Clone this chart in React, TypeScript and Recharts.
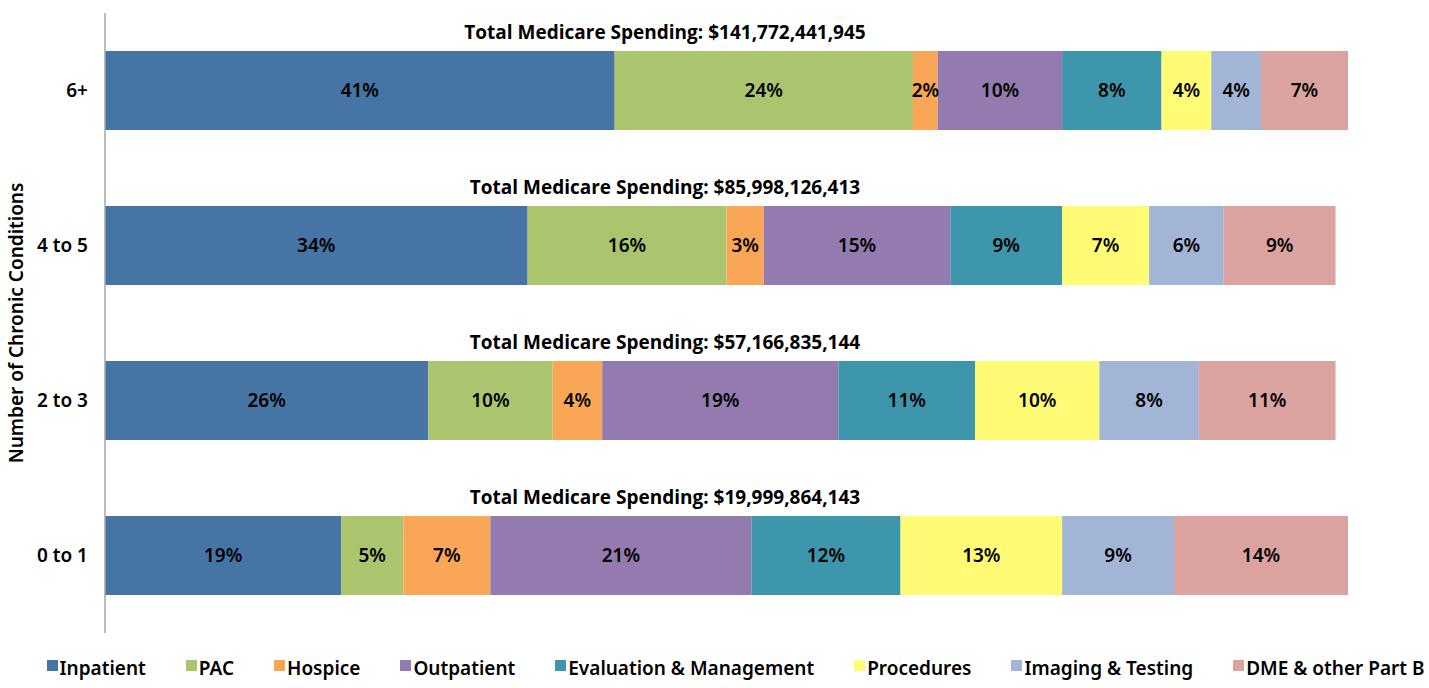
import { BarChart, Bar, XAxis, YAxis, LabelList, Legend, Label } from "recharts";

const categories = ["6+", "4 to 5", "2 to 3", "0 to 1"];
const totals = ["$141,772,441,945", "$85,998,126,413", "$57,166,835,144", "$19,999,864,143"];

const inpatient = [41, 34, 26, 19];
const pac = [24, 16, 10, 5];
const hospice = [2, 3, 4, 7];
const outpatient = [10, 15, 19, 21];
const evalMgmt = [8, 9, 11, 12];
const procedures = [4, 7, 10, 13];
const imaging = [4, 6, 8, 9];
const dme = [7, 9, 11, 14];

const series = [
  { key: "inpatient", name: "Inpatient", values: inpatient, color: "#4674A5" },
  { key: "pac", name: "PAC", values: pac, color: "#ABC56E" },
  { key: "hospice", name: "Hospice", values: hospice, color: "#F9A656" },
  { key: "outpatient", name: "Outpatient", values: outpatient, color: "#937BB0" },
  { key: "evalMgmt", name: "Evaluation & Management", values: evalMgmt, color: "#3D96AC" },
  { key: "procedures", name: "Procedures", values: procedures, color: "#FFFB75" },
  { key: "imaging", name: "Imaging & Testing", values: imaging, color: "#A2B5D7" },
  { key: "dme", name: "DME & other Part B", values: dme, color: "#DAA3A0" },
];

const data = categories.map((name, i) => {
  const row: Record<string, string | number> = { name, total: totals[i] };
  series.forEach((s) => (row[s.key] = s.values[i]));
  return row;
});

const FONT = "'Noto Sans', Lato, sans-serif";
const TITLE_FONT = "'Open Sans', 'Noto Sans', sans-serif";

// title sits above each bar, roughly centred over the plot
const TitleLabel = (props: any) => {
  const { x, y, index } = props;
  return (
    <text x={x + 560} y={y - 12} textAnchor="middle" fontFamily={TITLE_FONT} fontWeight={700} fontSize={19} fill="#000">
      Total Medicare Spending: {totals[index]}
    </text>
  );
};

const renderLegend = () => (
  <div style={{ display: "flex", justifyContent: "center", paddingLeft: 42, fontFamily: FONT, fontWeight: 600, fontSize: 19, color: "#000" }}>
    {series.map((s, i) => (
      <div key={s.key} style={{ display: "flex", alignItems: "flex-start", marginRight: i === series.length - 1 ? 0 : 40 }}>
        <span style={{ width: 11, height: 11, background: s.color, marginTop: 4, marginRight: 2 }} />
        <span style={{ lineHeight: "24px" }}>{s.name}</span>
      </div>
    ))}
  </div>
);

export default function App() {
  return (
    <div style={{ position: "absolute", left: 0, top: 0, background: "#fff" }}>
      <BarChart width={1429} height={688} data={data} layout="vertical" margin={{ top: 13, right: 81, bottom: 31, left: 0 }} barSize={79}>
        <XAxis type="number" domain={[0, 100]} hide />
        <YAxis
          type="category"
          dataKey="name"
          width={105}
          tickLine={false}
          axisLine={{ stroke: "#A6A6A6", strokeWidth: 1.5 }}
          tickMargin={11}
          tick={{ fill: "#000", fontSize: 19, fontFamily: FONT, fontWeight: 600 }}
        >
          <Label
            value="Number of Chronic Conditions"
            angle={-90}
            position="insideLeft"
            offset={16}
            style={{ textAnchor: "middle", fill: "#000", fontSize: 19, fontFamily: FONT, fontWeight: 600 }}
          />
        </YAxis>
        <Legend verticalAlign="bottom" content={renderLegend} wrapperStyle={{ bottom: 8, left: 0, width: 1429 }} />
        {series.map((s, si) => (
          <Bar key={s.key} dataKey={s.key} name={s.name} stackId="a" fill={s.color} isAnimationActive={false}>
            <LabelList
              dataKey={s.key}
              position="center"
              formatter={(v: any) => `${v}%`}
              fill="#000"
              fontSize={19}
              fontFamily={FONT}
              fontWeight={600}
            />
            {si === 0 && <LabelList dataKey="total" content={TitleLabel} />}
          </Bar>
        ))}
      </BarChart>
    </div>
  );
}
